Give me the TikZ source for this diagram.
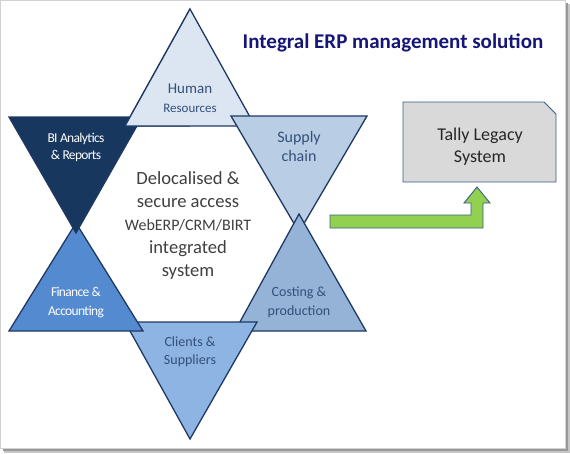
\documentclass[tikz,border=0pt]{standalone}
\usepackage{fontspec}
\setmainfont{Carlito}
\newfontfamily\narrowfont[LetterSpace=-5]{Carlito}
\usepackage{xcolor}

\definecolor{edgeblue}{RGB}{31,56,100}
\definecolor{labelblue}{RGB}{52,80,122}
\definecolor{hrfill}{RGB}{220,230,242}
\definecolor{bifill}{RGB}{23,55,94}
\definecolor{supplyfill}{RGB}{185,205,229}
\definecolor{financefill}{RGB}{84,138,208}
\definecolor{costingfill}{RGB}{149,179,215}
\definecolor{clientsfill}{RGB}{141,180,226}
\definecolor{titleblue}{RGB}{22,22,120}
\definecolor{boxedge}{RGB}{56,93,138}
\definecolor{arrowgreen}{RGB}{146,208,80}

\begin{document}
\begin{tikzpicture}[x=1pt, y=-1pt,
    tri/.style={draw=edgeblue, line width=1.3pt},
    lbl/.style={align=center, text=labelblue, inner sep=0pt},
    whitelbl/.style={align=center, text=white, inner sep=0pt}]
    \useasboundingbox (0,0) rectangle (570,453);

    % Frame
    \fill[white] (0,0) rectangle (566,449);
    \draw[gray!35] (0.5,0.5) rectangle (565.5,448.5);
    \fill[gray!80] (565.5,3) rectangle (567.5,451);
    \fill[gray!80] (3,448.5) rectangle (567.5,450.5);
    \fill[gray!45] (567.5,4) rectangle (569.5,452.5);
    \fill[gray!45] (4,450.5) rectangle (569.5,452.5);

    % Triangles
    \draw[tri, fill=hrfill] (190,9) -- (255,126) -- (125,126) -- cycle;
    \draw[tri, fill=supplyfill] (231,116) -- (367,116) -- (299,232) -- cycle;
    \draw[tri, fill=costingfill] (299,214) -- (366,331) -- (235,331) -- cycle;
    \draw[tri, fill=clientsfill] (125,322) -- (257,322) -- (190,439) -- cycle;
    \draw[tri, fill=financefill] (76,223) -- (143,331) -- (9,331) -- cycle;
    \draw[tri, fill=bifill] (9,117) -- (142,117) -- (76,233) -- cycle;
    % HR corner lies over BI
    \begin{scope}
        \clip (100,0) rectangle (190,140);
        \draw[tri, fill=hrfill] (190,9) -- (255,126) -- (125,126) -- cycle;
    \end{scope}

    % Triangle labels
    \node[lbl, font=\fontsize{13}{18.5}\selectfont] (hr) at (190,98) {{\fontsize{15}{18.5}\selectfont Human}\\Resources};
    \node[lbl, font=\fontsize{16}{19}\selectfont] (supply) at (299,146) {Supply\\chain};
    \node[whitelbl, font=\narrowfont\fontsize{13.5}{17}\selectfont] (bi) at (76,147.5) {BI Analytics\\\& Reports};
    \node[whitelbl, font=\narrowfont\fontsize{13.5}{19}\selectfont] (finance) at (76,303) {Finance \&\\Accounting};
    \node[lbl, font=\fontsize{14}{19}\selectfont] (costing) at (299,302) {Costing \&\\production};
    \node[lbl, font=\fontsize{14}{18}\selectfont] (clients) at (190,352) {Clients \&\\Suppliers};

    % Centre text
    \node[align=center, text=black!75, inner sep=0pt, font=\fontsize{18.6}{23}\selectfont] (centre) at (188,226)
        {Delocalised \&\\secure access\\{\fontsize{16}{23}\selectfont WebERP/CRM/BIRT}\\integrated\\system};

    % Title
    \node[text=titleblue, inner sep=0pt, font=\bfseries\fontsize{21}{25}\selectfont] (title) at (393,43) {Integral ERP management solution};

    % Legacy system box
    \draw[boxedge, fill=black!15, line width=0.9pt] (403,102) -- (544,102) -- (556,114) -- (556,182) -- (403,182) -- cycle;
    \node[align=center, text=black!85, inner sep=0pt, font=\fontsize{18}{22}\selectfont] (tally) at (480,147) {Tally Legacy\\System};

    % Block arrow
    \draw[boxedge, fill=arrowgreen, line width=0.9pt] (330,215) -- (471,215) -- (471,203) -- (464,203) -- (477,187)
        -- (490,203) -- (483,203) -- (483,228) -- (330,228) -- cycle;
\end{tikzpicture}
\end{document}
